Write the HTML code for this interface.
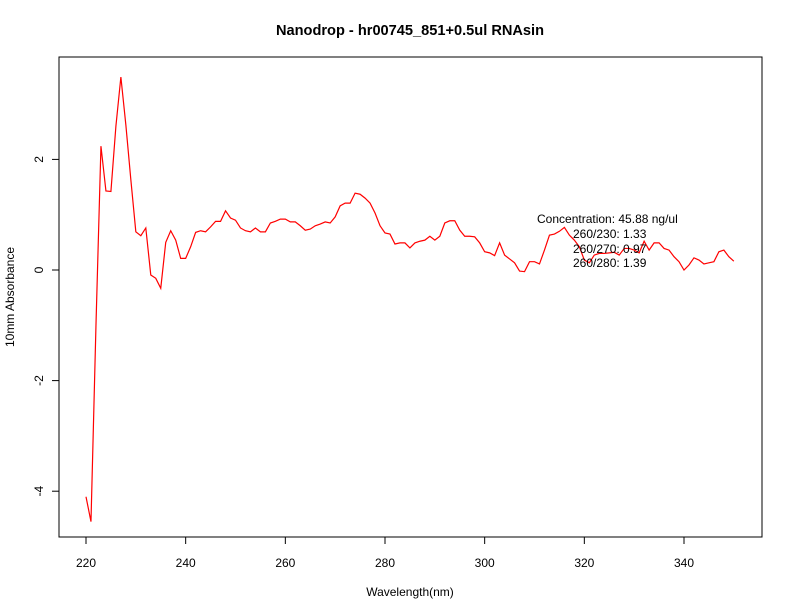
<!DOCTYPE html>
<html><head><meta charset="utf-8"><style>
html,body{margin:0;padding:0;background:#fff;}
svg{display:block;font-family:"Liberation Sans",sans-serif;}
</style></head><body>
<svg id="chart" width="792" height="612" viewBox="0 0 792 612">
<rect x="0" y="0" width="792" height="612" fill="#fff"/>
<text x="410" y="35" text-anchor="middle" font-size="14.6" font-weight="bold">Nanodrop - hr00745_851+0.5ul RNAsin</text>
<rect x="59" y="57" width="703" height="480" fill="none" stroke="#000" stroke-width="1"/>
<g id="xaxis"></g>
<g id="yaxis"></g>
<text x="410" y="596" text-anchor="middle" font-size="12">Wavelength(nm)</text>
<text transform="translate(14,297) rotate(-90)" text-anchor="middle" font-size="12">10mm Absorbance</text>
<polyline id="series" fill="none" stroke="#ff0000" stroke-width="1.2"/>
<g font-size="12">
<text x="537" y="223">Concentration: 45.88 ng/ul</text>
<text x="573" y="238">260/230: 1.33</text>
<text x="573" y="253">260/270: 0.97</text>
<text x="573" y="267">260/280: 1.39</text>
</g>
</svg>
<script>
const startWavelength = 220;
const absorbance = [-4.1,-4.55,-1.0,2.24,1.43,1.42,2.6,3.49,2.62,1.63,0.69,0.62,0.76,-0.09,-0.15,-0.33,0.5,0.71,0.54,0.21,
0.21,0.42,0.68,0.71,0.69,0.78,0.88,0.88,1.07,0.94,0.9,0.76,0.71,0.69,0.76,0.69,0.69,0.85,0.88,0.92,
0.92,0.87,0.87,0.8,0.72,0.74,0.8,0.83,0.87,0.85,0.96,1.16,1.21,1.21,1.39,1.37,1.3,1.21,1.03,0.8,
0.67,0.65,0.47,0.49,0.49,0.4,0.49,0.52,0.54,0.61,0.54,0.61,0.85,0.89,0.89,0.72,0.61,0.61,0.6,0.49,
0.33,0.31,0.26,0.49,0.27,0.2,0.13,-0.02,-0.03,0.15,0.15,0.11,0.36,0.63,0.65,0.7,0.77,0.63,0.54,0.42,
0.18,0.13,0.27,0.3,0.3,0.31,0.32,0.27,0.39,0.39,0.36,0.31,0.52,0.36,0.49,0.49,0.39,0.36,0.24,0.15,
0.0,0.09,0.22,0.18,0.11,0.13,0.15,0.33,0.36,0.24,0.16];
const xTicks = [220,240,260,280,300,320,340];
const yTicks = [-4,-2,0,2];

const NS = "http://www.w3.org/2000/svg";
function xs(v){ return 86 + (v - 220) * (684 - 86) / 120; }
function ys(v){ return 270 - v * 55.3; }

const pts = absorbance.map((a,i)=> xs(startWavelength + i).toFixed(2) + "," + ys(a).toFixed(2)).join(" ");
document.getElementById("series").setAttribute("points", pts);

const xg = document.getElementById("xaxis");
const xl = document.createElementNS(NS,"line");
xl.setAttribute("x1", xs(xTicks[0])); xl.setAttribute("x2", xs(xTicks[xTicks.length-1]));
xl.setAttribute("y1", 537); xl.setAttribute("y2", 537); xl.setAttribute("stroke","#000");


xg.appendChild(xl);
xTicks.forEach(t=>{
  const l = document.createElementNS(NS,"line");
  l.setAttribute("x1", xs(t)); l.setAttribute("x2", xs(t));
  l.setAttribute("y1", 537); l.setAttribute("y2", 544); l.setAttribute("stroke","#000");
  
  
  xg.appendChild(l);
  const tx = document.createElementNS(NS,"text");
  tx.setAttribute("x", xs(t)); tx.setAttribute("y", 567);
  tx.setAttribute("text-anchor","middle"); tx.setAttribute("font-size","12");
  tx.textContent = t;
  
  
  xg.appendChild(tx);
});

const yg = document.getElementById("yaxis");
const yl = document.createElementNS(NS,"line");
yl.setAttribute("x1", 59); yl.setAttribute("x2", 59);
yl.setAttribute("y1", ys(yTicks[0])); yl.setAttribute("y2", ys(yTicks[yTicks.length-1]));
yl.setAttribute("stroke","#000");


yg.appendChild(yl);
yTicks.forEach(t=>{
  const l = document.createElementNS(NS,"line");
  l.setAttribute("x1", 52); l.setAttribute("x2", 59);
  l.setAttribute("y1", ys(t)); l.setAttribute("y2", ys(t)); l.setAttribute("stroke","#000");
  
  
  yg.appendChild(l);
  const tx = document.createElementNS(NS,"text");
  tx.setAttribute("transform", "translate(43," + ys(t) + ") rotate(-90)");
  tx.setAttribute("text-anchor","middle"); tx.setAttribute("font-size","12");
  tx.textContent = t;
  
  
  yg.appendChild(tx);
});
</script>
</body></html>
